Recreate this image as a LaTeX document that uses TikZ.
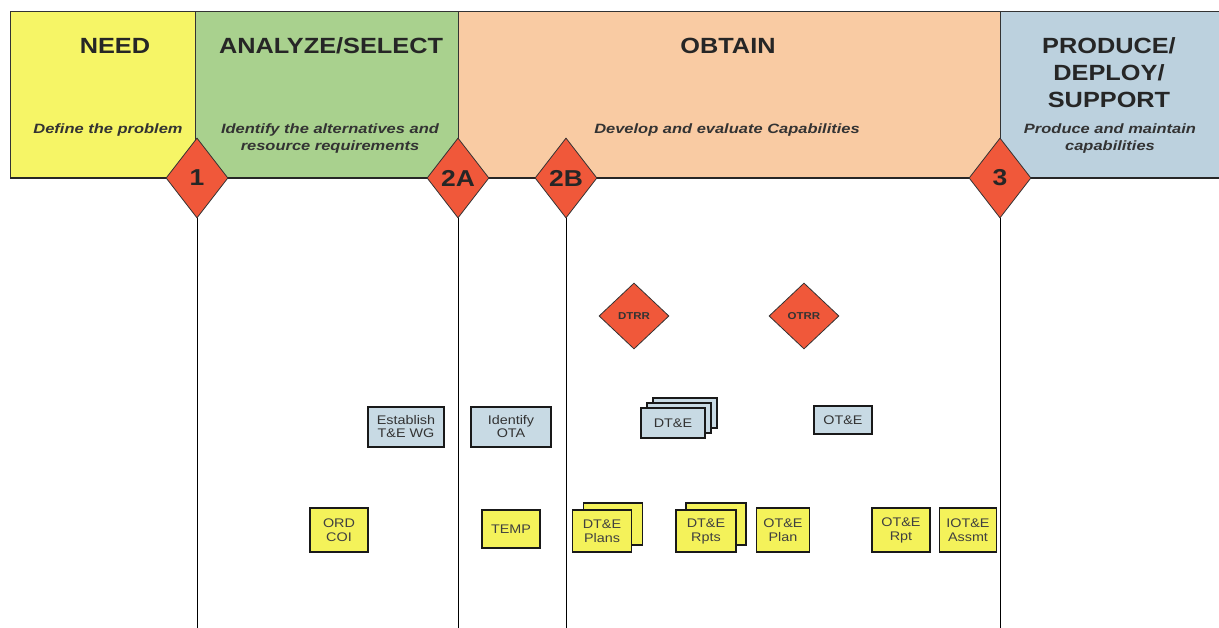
\documentclass[tikz,border=0pt]{standalone}
\usepackage{fontspec}
\setmainfont{Liberation Sans}
\newfontfamily\widesans[FakeStretch=1.15]{Liberation Sans}
\newfontfamily\widersans[FakeStretch=1.22]{Liberation Sans}
\usetikzlibrary{shapes.geometric,shadows}
\definecolor{needY}{HTML}{F6F566}
\definecolor{anaG}{HTML}{A9D18E}
\definecolor{obtO}{HTML}{F9CBA3}
\definecolor{proB}{HTML}{BCD1DE}
\definecolor{msR}{HTML}{F0583A}
\definecolor{boxB}{HTML}{C8DAE4}
\definecolor{boxY}{HTML}{F4F25A}
\begin{document}
\begin{tikzpicture}[x=1pt,y=-1pt,
  phase/.style={draw=black!80, line width=1pt},
  title/.style={font=\widesans\bfseries\fontsize{22}{27}\selectfont, align=center, text=black!85},
  sub/.style={font=\widersans\bfseries\itshape\fontsize{13.5}{17}\selectfont, align=center, text=black!80},
  ms/.style={diamond, draw=black!80, fill=msR, minimum width=62pt, minimum height=80pt, inner sep=0pt, line width=0.8pt, font=\widesans\bfseries\fontsize{23}{23}\selectfont, text=black!85},
  rv/.style={diamond, draw=black!80, fill=msR, minimum width=70pt, minimum height=66pt, inner sep=0pt, line width=0.8pt, font=\widesans\bfseries\fontsize{10}{10}\selectfont, text=black!80},
  bbox/.style={draw=black!90, line width=1.5pt, fill=boxB, inner sep=1pt, align=center, font=\widesans\fontsize{12.5}{13}\selectfont, text=black!80},
  ybox/.style={draw=black!90, line width=1.3pt, fill=boxY, inner sep=1pt, align=center, font=\widesans\fontsize{12.5}{14}\selectfont, text=black!75},
  vline/.style={draw=black, line width=1pt}
]
\useasboundingbox (0,0) rectangle (1219,628);
% phase bands
\path[phase, fill=needY] (10,12) rectangle (195,178);
\path[phase, fill=anaG] (195,12) rectangle (458,178);
\path[phase, fill=obtO] (458,12) rectangle (1000,178);
\path[phase, fill=proB] (1000,12) rectangle (1225,178);
\draw[black!85, line width=1.6pt] (10,178) -- (1225,178);
\node[title] (tneed) at (115,46) {NEED};
\node[sub] (sneed) at (108,130) {Define the problem};
\node[title] (tana) at (331,46) {ANALYZE/SELECT};
\node[sub] (sana) at (330,139) {Identify the alternatives and\\resource requirements};
\node[title] (tobt) at (728,46) {OBTAIN};
\node[sub] (sobt) at (727,130) {Develop and evaluate Capabilities};
\node[title] (tpro) at (1109,73) {PRODUCE/\\DEPLOY/\\SUPPORT};
\node[sub] (spro) at (1110,139) {Produce and maintain\\capabilities};
% milestone lines
\coordinate (b1) at (197,628);
\coordinate (b2a) at (458,628);
\coordinate (b2b) at (566,628);
\coordinate (b3) at (1000,628);
\node[ms] (m1) at (197,178) {1};
\node[ms] (m2a) at (458,178) {2A};
\node[ms] (m2b) at (566,178) {2B};
\node[ms] (m3) at (1000,178) {3};
\draw[vline] (m1.south) -- (b1);
\draw[vline] (m2a.south) -- (b2a);
\draw[vline] (m2b.south) -- (b2b);
\draw[vline] (m3.south) -- (b3);
% reviews
\node[rv] (dtrr) at (634,316) {DTRR};
\node[rv] (otrr) at (804,316) {OTRR};
% blue boxes
\node[bbox, minimum width=76pt, minimum height=40pt] (estab) at (406,427) {Establish\\T\&E WG};
\node[bbox, minimum width=80pt, minimum height=40pt] (ota) at (511,427) {Identify\\OTA};
\node[bbox, minimum width=64pt, minimum height=30pt,
  double copy shadow={shadow xshift=6pt, shadow yshift=5pt, fill=boxB, draw=black!90, line width=1.5pt}] (dte) at (673,423) {DT\&E};
\node[bbox, minimum width=58pt, minimum height=28pt] (ote) at (843,420) {OT\&E};
% yellow boxes
\node[ybox, minimum width=58pt, minimum height=44pt] (ord) at (339,530) {ORD\\COI};
\node[ybox, minimum width=58pt, minimum height=38pt] (temp) at (511,529) {TEMP};
\node[ybox, minimum width=59pt, minimum height=42pt,
  copy shadow={shadow xshift=11pt, shadow yshift=7pt, fill=boxY, draw=black!90, line width=1.3pt}] (dtp) at (602,531) {DT\&E\\Plans};
\node[ybox, minimum width=60pt, minimum height=42pt,
  copy shadow={shadow xshift=10pt, shadow yshift=7pt, fill=boxY, draw=black!90, line width=1.3pt}] (dtr) at (706,531) {DT\&E\\Rpts};
\node[ybox, minimum width=53pt, minimum height=44pt] (otp) at (783,530) {OT\&E\\Plan};
\node[ybox, minimum width=58pt, minimum height=44pt] (otr) at (901,530) {OT\&E\\Rpt};
\node[ybox, minimum width=57pt, minimum height=44pt] (iote) at (968,530) {IOT\&E\\Assmt};
\end{tikzpicture}
\end{document}
